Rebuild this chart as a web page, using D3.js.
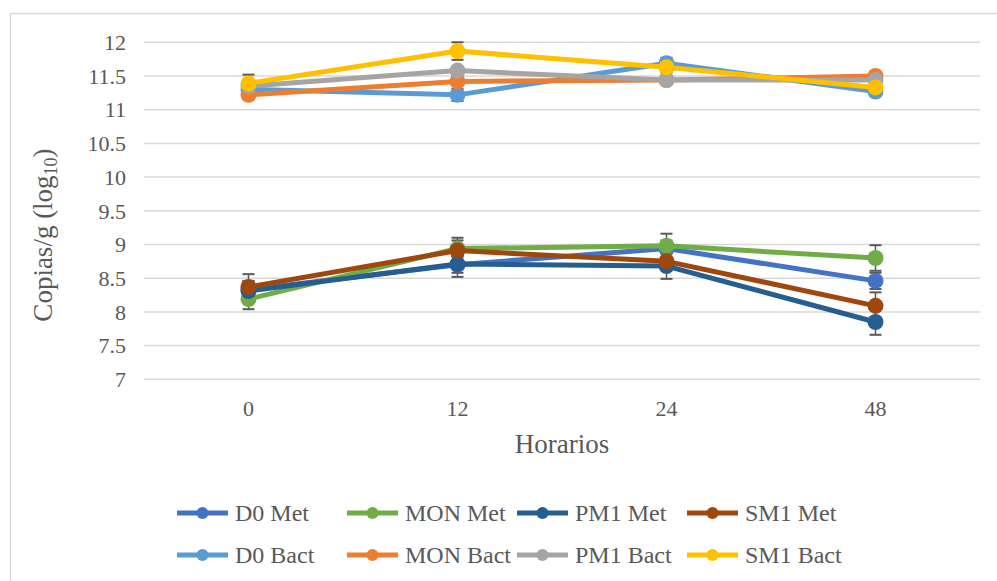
<!DOCTYPE html>
<html><head><meta charset="utf-8">
<script src="https://cdn.jsdelivr.net/npm/d3@7"></script>
<style>body{margin:0;background:#fff}svg{display:block}</style>
</head><body>
<script>
const categories = ["0","12","24","48"];
const seriesNames = ["D0 Met","MON Met","PM1 Met","SM1 Met","D0 Bact","MON Bact","PM1 Bact","SM1 Bact"];
const seriesColors = ["#4472C4","#70AD47","#255E91","#9E480E","#5B9BD5","#ED7D31","#A5A5A5","#FFC000"];
const d0Met   = [8.33, 8.70, 8.94, 8.46];
const monMet  = [8.19, 8.94, 8.98, 8.80];
const pm1Met  = [8.31, 8.71, 8.68, 7.85];
const sm1Met  = [8.37, 8.91, 8.75, 8.09];
const d0Bact  = [11.30, 11.22, 11.69, 11.27];
const monBact = [11.22, 11.42, 11.44, 11.50];
const pm1Bact = [11.35, 11.58, 11.44, 11.44];
const sm1Bact = [11.39, 11.87, 11.63, 11.33];
const d0MetErr   = [0.12, 0.12, 0.12, 0.12];
const monMetErr  = [0.15, 0.12, 0.18, 0.19];
const pm1MetErr  = [0.15, 0.19, 0.19, 0.19];
const sm1MetErr  = [0.19, 0.19, 0.12, 0.20];
const d0BactErr  = [0.08, 0.09, 0.08, 0.06];
const monBactErr = [0.06, 0.06, 0.06, 0.06];
const pm1BactErr = [0.06, 0.06, 0.06, 0.06];
const sm1BactErr = [0.13, 0.13, 0.08, 0.06];
const yTicks = [7,7.5,8,8.5,9,9.5,10,10.5,11,11.5,12];
const yTitle = "Copias/g (log";
const yTitleSub = "10";
const xTitle = "Horarios";

const FONT = '"Liberation Serif","Times New Roman","DejaVu Serif",serif';
const values = [d0Met, monMet, pm1Met, sm1Met, d0Bact, monBact, pm1Bact, sm1Bact];
const errs = [d0MetErr, monMetErr, pm1MetErr, sm1MetErr, d0BactErr, monBactErr, pm1BactErr, sm1BactErr];
const series = seriesNames.map((n,i)=>({name:n,color:seriesColors[i],vals:values[i],err:errs[i]}));

const W=997,H=581;
const svg=d3.select("body").append("svg").attr("width",W).attr("height",H);
svg.append("rect").attr("x",10.5).attr("y",13.5).attr("width",W+10).attr("height",H+10)
  .attr("fill","#fff").attr("stroke","#D9D9D9").attr("stroke-width",1.5);

const x=d3.scaleBand().domain(categories).range([144,980]);
const y=d3.scaleLinear().domain([7,12]).range([379.3,42.3]);
const cx=c=>x(c)+x.bandwidth()/2;

function styleText(sel,size){ sel.style("font-family",FONT).style("font-size",size+"px").style("fill","#595959"); }

// gridlines
svg.append("g").selectAll("line").data(yTicks).join("line")
  .attr("x1",144).attr("x2",980).attr("y1",d=>y(d)).attr("y2",d=>y(d))
  .attr("stroke","#D9D9D9").attr("stroke-width",1.5);

// y axis
const yAxis=d3.axisLeft(y).tickValues(yTicks).tickSize(0).tickPadding(0).tickFormat(d=>String(d));
const gy=svg.append("g").attr("transform","translate(126,0)").call(yAxis);
gy.select(".domain").remove();
gy.selectAll("text").call(styleText,22).attr("dy","0.33em");

// x axis
const xAxis=d3.axisBottom(x).tickSize(0).tickPadding(0);
const gx=svg.append("g").attr("transform","translate(0,400)").call(xAxis);
gx.select(".domain").remove();
gx.selectAll("text").call(styleText,22).attr("dy","0.72em");

// titles
svg.append("text").attr("x",562).attr("y",453).attr("text-anchor","middle").call(styleText,27).text(xTitle);
const yt=svg.append("text").attr("transform","translate(52,235) rotate(-90)").attr("text-anchor","middle").call(styleText,27);
yt.append("tspan").text(yTitle);
yt.append("tspan").style("font-size","18px").attr("dy",5).text(yTitleSub);
yt.append("tspan").attr("dy",-5).text(")");

// error bars
const eg=svg.append("g");
series.forEach(s=>{
  categories.forEach((c,i)=>{
    const v=s.vals[i],e=s.err[i],px=cx(c);
    eg.append("line").attr("x1",px).attr("x2",px).attr("y1",y(v-e)).attr("y2",y(v+e)).attr("stroke","#595959").attr("stroke-width",1.5);
    [v-e,v+e].forEach(t=>eg.append("line").attr("x1",px-6).attr("x2",px+6).attr("y1",y(t)).attr("y2",y(t)).attr("stroke","#595959").attr("stroke-width",2));
  });
});

// lines and markers
const line=d3.line().x((d,i)=>cx(categories[i])).y(d=>y(d));
series.forEach(s=>{
  const g=svg.append("g");
  g.append("path").attr("d",line(s.vals)).attr("fill","none").attr("stroke",s.color).attr("stroke-width",5).attr("stroke-linejoin","round");
  g.selectAll("circle").data(s.vals).join("circle").attr("cx",(d,i)=>cx(categories[i])).attr("cy",d=>y(d)).attr("r",8).attr("fill",s.color);
});

// legend
const colX=[177,347,517,687], rowY=[513,555];
series.forEach((s,i)=>{
  const lx=colX[i%4], ly=rowY[Math.floor(i/4)];
  const g=svg.append("g");
  g.append("line").attr("x1",lx).attr("x2",lx+51).attr("y1",ly).attr("y2",ly).attr("stroke",s.color).attr("stroke-width",5);
  g.append("circle").attr("cx",lx+25.5).attr("cy",ly).attr("r",6).attr("fill",s.color);
  g.append("text").attr("x",lx+58).attr("y",ly).attr("dy","0.35em").call(styleText,24).text(s.name);
});
</script>
</body></html>
